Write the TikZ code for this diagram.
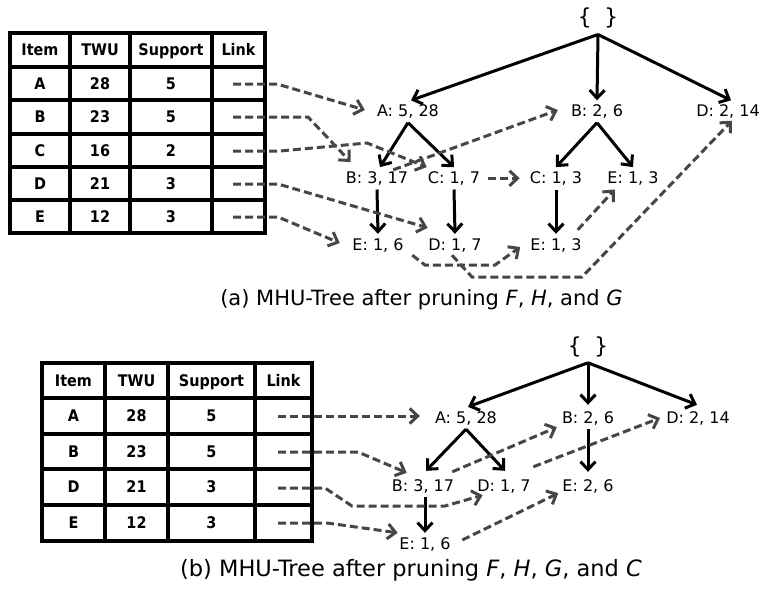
\documentclass[tikz,border=0pt]{standalone}
\usepackage{fontspec}
\setmainfont{DejaVu Sans}[ItalicFont={DejaVu Sans Oblique},BoldFont={DejaVu Sans Bold}]
\newfontfamily\tabfont{DejaVu Sans}[FakeStretch=0.9,BoldFont={DejaVu Sans Bold}]
\newfontfamily\bracefont{DejaVu Sans Mono}
\usetikzlibrary{arrows.meta}
\definecolor{dgray}{HTML}{464646}
\tikzset{
  tn/.style={font=\fontsize{16}{19}\selectfont, inner sep=4pt, text height=12pt, text depth=2pt},
  tc/.style={font=\tabfont\bfseries\fontsize{16}{19}\selectfont, inner sep=0pt, anchor=base},
  rootn/.style={font=\bracefont\fontsize{22}{26}\selectfont, inner sep=6pt, anchor=base},
  capn/.style={font=\fontsize{21}{25}\selectfont, inner sep=0pt, anchor=base},
  tbl/.style={draw=black, line width=3.3pt},
  sol/.style={draw=black, line width=3pt, -{Straight Barb[length=8pt,width=15pt]}},
  dsh/.style={draw=dgray, line width=3pt, dash pattern=on 8pt off 4pt, -{Straight Barb[length=8pt,width=15pt]}}
}
\begin{document}
\begin{tikzpicture}[x=1pt,y=-1pt]
\useasboundingbox (0,0) rectangle (761,592);
% ---------------- table (a)
\draw[tbl] (10,33) rectangle (265,233);
\foreach \xx in {70,130,212} \draw[tbl] (\xx,33) -- (\xx,233);
\foreach \yy in {67,100,134,167,200} \draw[tbl] (10,\yy) -- (265,\yy);
\node[tc] (ta0) at (40,55.5) {Item};
\node[tc] (tb0) at (100,55.5) {TWU};
\node[tc] (tcc0) at (171,55.5) {Support};
\node[tc] (td0) at (238.5,55.5) {Link};
\foreach \it/\tw/\su/\yy/\nm in {A/28/5/89/1,B/23/5/122.5/2,C/16/2/156/3,D/21/3/189/4,E/12/3/222/5}{
  \node[tc] (ta\nm) at (40,\yy) {\it};
  \node[tc] (tb\nm) at (100,\yy) {\tw};
  \node[tc] (tcc\nm) at (171,\yy) {\su};
}
% ---------------- tree (a)
\node[rootn] (ra) at (598,24.7) {\{ \}};
\node[tn] (A) at (408,111.5) {A: 5, 28};
\node[tn] (B26) at (597,111.5) {B: 2, 6};
\node[tn] (D214) at (728,111.5) {D: 2, 14};
\node[tn] (B317) at (377,178.3) {B: 3, 17};
\node[tn] (C17) at (454,178.3) {C: 1, 7};
\node[tn] (C13) at (556,178.3) {C: 1, 3};
\node[tn] (E13m) at (633,178.3) {E: 1, 3};
\node[tn] (E16) at (378,245) {E: 1, 6};
\node[tn] (D17) at (455,245) {D: 1, 7};
\node[tn] (E13b) at (556,245) {E: 1, 3};
\draw[sol] (ra.south) -- ([xshift=3pt]A.north);
\draw[sol] (ra.south) -- (B26.north);
\draw[sol] (ra.south) -- ([xshift=3pt]D214.north);
\draw[sol] (A.south) -- ([xshift=3pt]B317.north);
\draw[sol] (A.south) -- (C17.north);
\draw[sol] (B26.south) -- (C13.north);
\draw[sol] (B26.south) -- (E13m.north);
\draw[sol] (B317.south) -- (E16.north);
\draw[sol] (C17.south) -- (D17.north);
\draw[sol] (C13.south) -- (E13b.north);
\coordinate (pa) at (233,84);
\coordinate (pb) at (233,117);
\coordinate (pc) at (233,151);
\coordinate (pd) at (233,184);
\coordinate (pe) at (233,217);
\draw[dsh] (pa) -- (277,84) -- ([shift={(-8,-1.5)}]A.west);
\draw[dsh] (pb) -- (308,117) -- ([shift={(9,-5)}]B317.north west);
\draw[dsh] (pc) -- (280,151) -- (367,143) -- ([shift={(3,0)}]C17.north west);
\draw[dsh] (pd) -- (278,184) -- ([shift={(3.5,-6)}]D17.north west);
\draw[dsh] (pe) -- (278,217) -- ([shift={(-8.5,-2)}]E16.west);
\draw[dsh] ([shift={(-19,2.7)}]B317.north east) -- ([shift={(-9,-1.5)}]B26.west);
\draw[dsh] ([shift={(4,0)}]C17.east) -- ([shift={(-6,0)}]C13.west);
\draw[dsh] ([shift={(4.5,-1)}]E16.south east) -- (425,265) -- (495,265) -- ([shift={(-6,2)}]E13b.west);
\draw[dsh] ([shift={(-3,-1)}]D17.south) -- (472,277) -- (582,277) -- ([shift={(4,-2)}]D214.south);
\draw[dsh] ([shift={(-8,-4)}]E13b.north east) -- ([shift={(11.5,0)}]E13m.south west);
\node[capn] (capa) at (421.5,305) {(a) MHU-Tree after pruning \textit{F}, \textit{H}, and \textit{G}};
% ---------------- table (b)
\draw[tbl] (42,363) rectangle (312,541);
\foreach \xx in {105,168,255} \draw[tbl] (\xx,363) -- (\xx,541);
\foreach \yy in {398,434,469,505} \draw[tbl] (42,\yy) -- (312,\yy);
\node[tc] (ua0) at (73.5,386) {Item};
\node[tc] (ub0) at (136.5,386) {TWU};
\node[tc] (ucc0) at (211.5,386) {Support};
\node[tc] (ud0) at (283.5,386) {Link};
\foreach \it/\tw/\su/\yy/\nm in {A/28/5/421.5/1,B/23/5/457/2,D/21/3/492.5/3,E/12/3/528.5/4}{
  \node[tc] (ua\nm) at (73.5,\yy) {\it};
  \node[tc] (ub\nm) at (136.5,\yy) {\tw};
  \node[tc] (ucc\nm) at (211.5,\yy) {\su};
}
% ---------------- tree (b)
\node[rootn] (rb) at (588,353) {\{ \}};
\node[tn] (Ab) at (466,418) {A: 5, 28};
\node[tn] (B26b) at (588,418) {B: 2, 6};
\node[tn] (D214b) at (698,418) {D: 2, 14};
\node[tn] (B317b) at (423,486) {B: 3, 17};
\node[tn] (D17b) at (504,486) {D: 1, 7};
\node[tn] (E26b) at (588,486) {E: 2, 6};
\node[tn] (E16b) at (425,544) {E: 1, 6};
\draw[sol] (rb.south) -- ([xshift=2pt]Ab.north);
\draw[sol] (rb.south) -- ([shift={(0,-2)}]B26b.north);
\draw[sol] (rb.south) -- ([shift={(-1,-2)}]D214b.north);
\draw[sol] (Ab.south) -- ([shift={(3,-4)}]B317b.north);
\draw[sol] (Ab.south) -- ([shift={(1,-4)}]D17b.north);
\draw[sol] (B26b.south) -- ([shift={(0,-3)}]E26b.north);
\draw[sol] ([xshift=2pt]B317b.south) -- (E16b.north);
\coordinate (qa) at (278,416);
\coordinate (qb) at (278,452);
\coordinate (qd) at (278,488);
\coordinate (qe) at (278,523);
\draw[dsh] (qa) -- ([shift={(-11,-2)}]Ab.west);
\draw[dsh] (qb) -- (358,452) -- ([shift={(19,-2)}]B317b.north west);
\draw[dsh] (qd) -- (325,488) -- (352,506) -- (445,506) -- ([shift={(9.5,-2)}]D17b.south west);
\draw[dsh] (qe) -- (327,523) -- ([shift={(2.5,0)}]E16b.north west);
\draw[dsh] ([shift={(-6,-3)}]B317b.north east) -- ([shift={(-1,-2)}]B26b.south west);
\draw[dsh] ([shift={(-1.5,-8)}]D17b.north east) -- ([shift={(-2,0)}]D214b.west);
\draw[dsh] ([shift={(7.5,-4)}]E16b.east) -- ([shift={(0,-4)}]E26b.south west);
\node[capn, font=\fontsize{22.5}{26}\selectfont] (capb) at (411,576) {(b) MHU-Tree after pruning \textit{F}, \textit{H}, \textit{G}, and \textit{C}};
\end{tikzpicture}
\end{document}
